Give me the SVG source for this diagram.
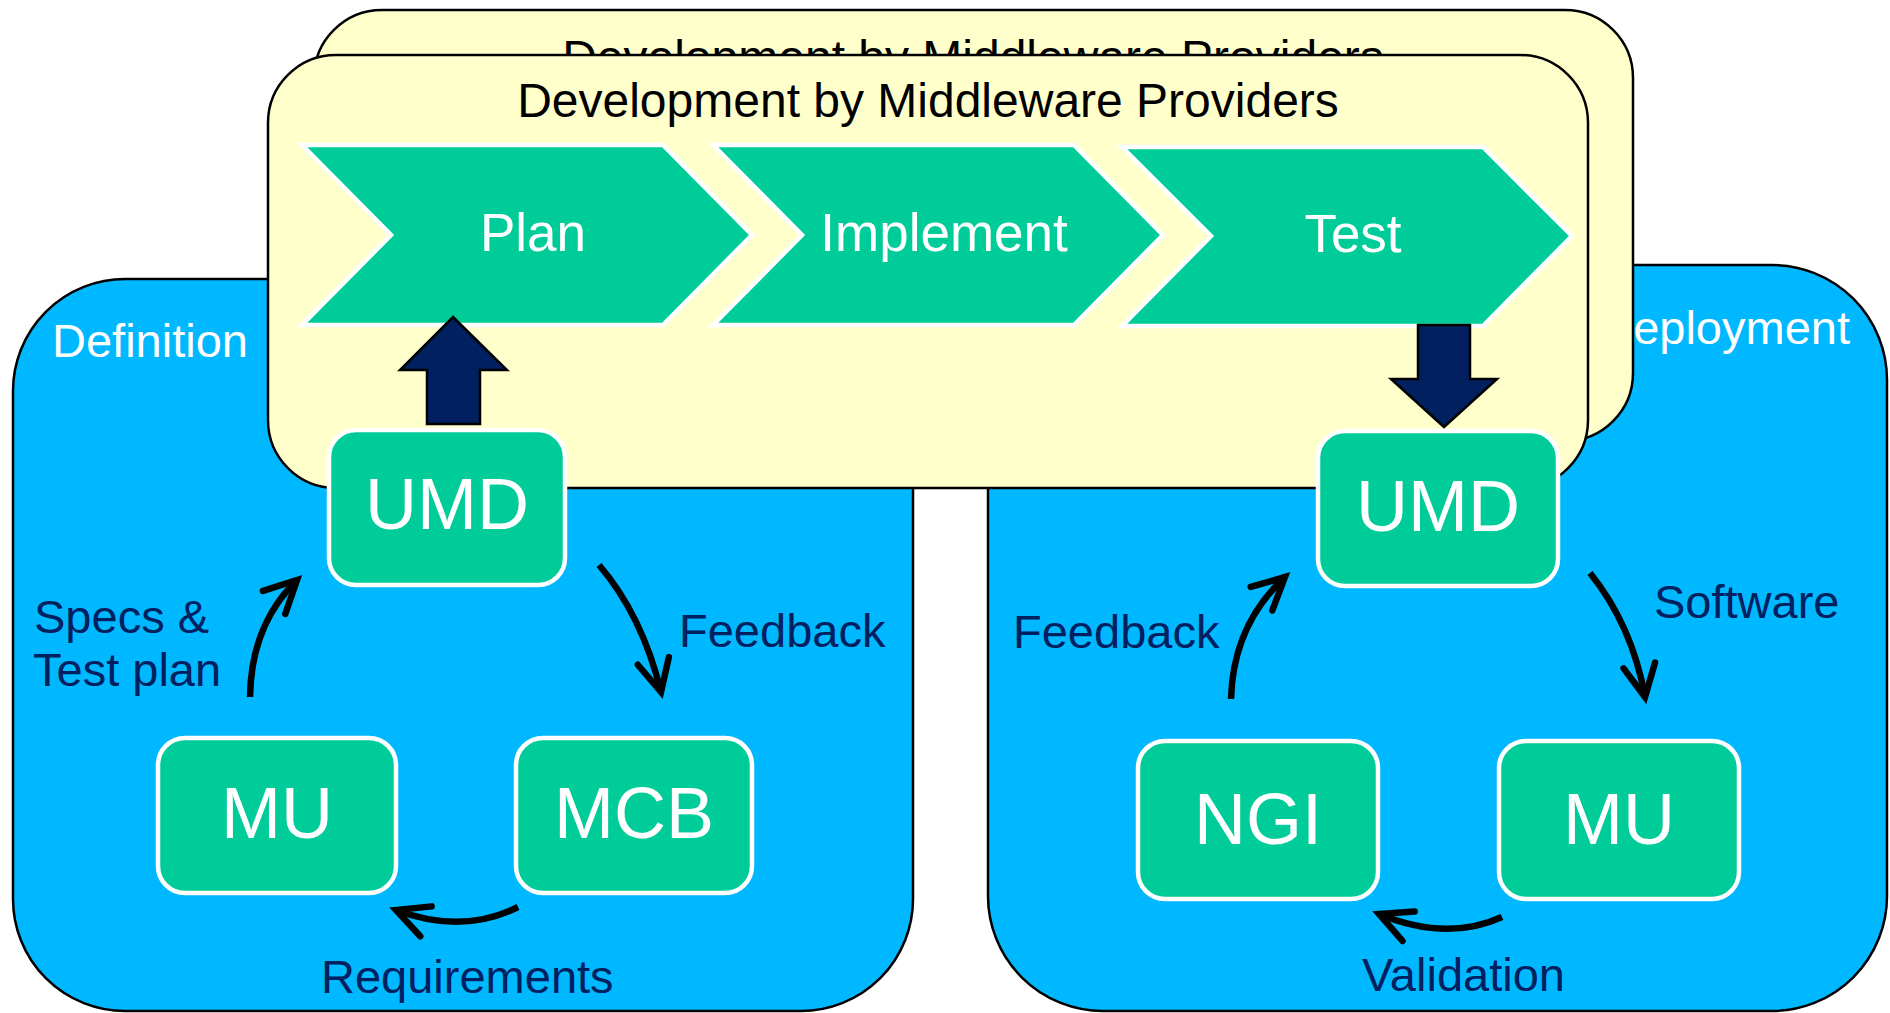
<svg xmlns="http://www.w3.org/2000/svg" width="1890" height="1013" viewBox="0 0 1890 1013">
<defs>
<style>
.stage{fill:#00B8FF;stroke:#000;stroke-width:2.5}
.yel{fill:#FFFFCC;stroke:#000;stroke-width:2.5}
.chev{fill:#00CC99;stroke:#fff;stroke-width:4.5}
.node{fill:#00CC99;stroke:#fff;stroke-width:4.5}
.blk{fill:#002060;stroke:#000;stroke-width:2.5}
.conn{fill:none;stroke:#000;stroke-width:6.5}
text{font-family:"Liberation Sans",Arial,sans-serif}
.wt{fill:#fff;font-size:47px}
.bt{fill:#000;font-size:48px}
.ct{fill:#fff;font-size:53px;text-anchor:middle}
.nt{fill:#fff;font-size:72px;text-anchor:middle}
.lt{fill:#002060;font-size:47px}
</style>
<marker id="ah" markerUnits="userSpaceOnUse" markerWidth="80" markerHeight="80" viewBox="-50 -40 80 80" refX="0" refY="0" orient="auto" overflow="visible">
<path d="M -32 -16 L 0 0 L -32 16" fill="none" stroke="#000" stroke-width="6.5" stroke-linecap="round" stroke-linejoin="miter"/>
</marker>
</defs>

<g id="definition-stage">
<rect class="stage" x="13" y="279" width="900" height="732" rx="112"/>
<text class="wt" x="52" y="357">Definition</text>
</g>
<g id="deployment-stage">
<rect class="stage" x="988" y="265" width="899" height="746" rx="115"/>
<text class="wt" x="1850" y="344" text-anchor="end">Deployment</text>
</g>

<g id="development-back">
<rect class="yel" x="314" y="10" width="1319" height="431" rx="68"/>
<text class="bt" x="973" y="74" text-anchor="middle">Development by Middleware Providers</text>
</g>
<g id="development-front">
<rect class="yel" x="268" y="55" width="1320" height="433" rx="68"/>
<text class="bt" x="928" y="117" text-anchor="middle">Development by Middleware Providers</text>
</g>

<g id="plan">
<polygon class="chev" points="302,145 663,145 752,235 663,325 302,325 391,235"/>
<text class="ct" x="533" y="251">Plan</text>
</g>
<g id="implement">
<polygon class="chev" points="713,145 1074,145 1163,235 1074,325 713,325 802,235"/>
<text class="ct" x="944" y="251">Implement</text>
</g>
<g id="test">
<polygon class="chev" points="1122,147 1483,147 1572,236 1483,326 1122,326 1211,236"/>
<text class="ct" x="1353" y="252">Test</text>
</g>

<g id="block-arrows">
<polygon class="blk" points="453,317 507,370 480,370 480,424 427,424 427,370 400,370"/>
<polygon class="blk" points="1418,325 1470,325 1470,379 1497,379 1444,427 1391,379 1418,379"/>
</g>

<g id="umd-left">
<rect class="node" x="329" y="430" width="236" height="155" rx="27"/>
<text class="nt" x="447" y="529">UMD</text>
</g>
<g id="umd-right">
<rect class="node" x="1318" y="431" width="240" height="155" rx="27"/>
<text class="nt" x="1438" y="531">UMD</text>
</g>
<g id="mu-left">
<rect class="node" x="158" y="738" width="238" height="155" rx="27"/>
<text class="nt" x="277" y="838">MU</text>
</g>
<g id="mcb">
<rect class="node" x="516" y="738" width="236" height="155" rx="27"/>
<text class="nt" x="634" y="838">MCB</text>
</g>
<g id="ngi">
<rect class="node" x="1138" y="741" width="240" height="158" rx="27"/>
<text class="nt" x="1258" y="844">NGI</text>
</g>
<g id="mu-right">
<rect class="node" x="1499" y="741" width="240" height="158" rx="27"/>
<text class="nt" x="1619" y="844">MU</text>
</g>

<g id="connectors">
<path class="conn" d="M 250 697 Q 251 625 297 580" marker-end="url(#ah)"/>
<path class="conn" d="M 599 565 Q 642 615 661 692" marker-end="url(#ah)"/>
<path class="conn" d="M 518 907 Q 462 935 396 910" marker-end="url(#ah)"/>
<path class="conn" d="M 1231 699 Q 1233 625 1285 577" marker-end="url(#ah)"/>
<path class="conn" d="M 1590 573 Q 1632 625 1645 697" marker-end="url(#ah)"/>
<path class="conn" d="M 1502 917 Q 1447 942 1379 914" marker-end="url(#ah)"/>
</g>

<g id="labels">
<text class="lt" x="34" y="633">Specs &amp;</text>
<text class="lt" x="33" y="686">Test plan</text>
<text class="lt" x="679" y="647">Feedback</text>
<text class="lt" x="321" y="993">Requirements</text>
<text class="lt" x="1013" y="648">Feedback</text>
<text class="lt" x="1654" y="618">Software</text>
<text class="lt" x="1362" y="991">Validation</text>
</g>
</svg>
